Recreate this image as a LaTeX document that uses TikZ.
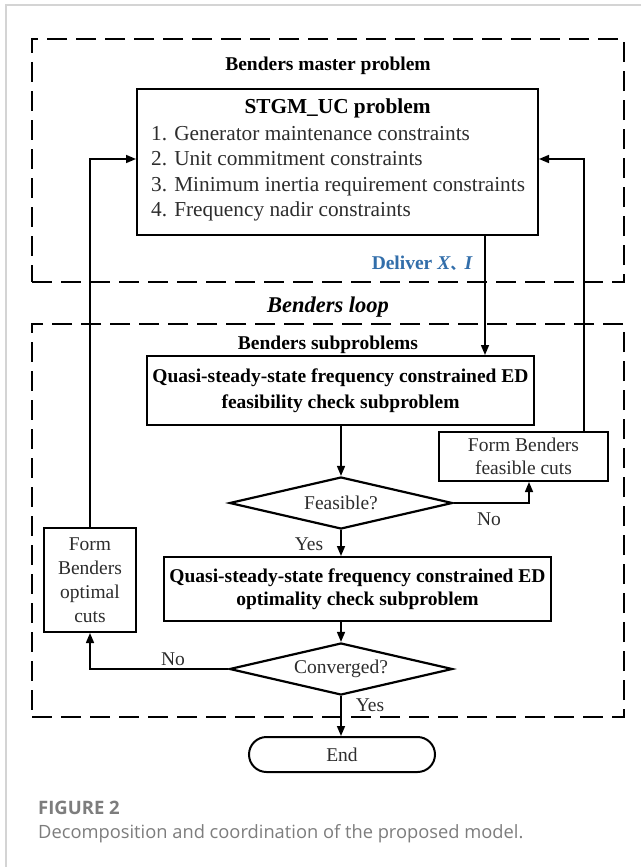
\documentclass[tikz,border=0pt]{standalone}
\usepackage{fontspec}
\setmainfont{Liberation Serif}
\newfontfamily\cjkfont{Noto Sans CJK SC}
\newfontfamily\capfont{Open Sans}
\usetikzlibrary{shapes.geometric,arrows.meta,calc}
\definecolor{deliverblue}{RGB}{50,110,170}
\definecolor{capgray}{RGB}{125,125,125}
\definecolor{framegray}{RGB}{212,212,212}
\definecolor{txtgray}{RGB}{45,45,45}
\begin{document}
\begin{tikzpicture}[x=1pt,y=-1pt,
  dashbox/.style={draw, line width=2.7pt, dash pattern=on 20pt off 9pt},
  solidbox/.style={draw, line width=2pt, rectangle, inner sep=0pt},
  decision/.style={draw, line width=2.2pt, diamond, aspect=4.3, inner sep=0pt,
    minimum width=223pt, minimum height=52pt, text=txtgray,
    font=\fontsize{19.5}{23}\selectfont},
  conn/.style={line width=1.5pt, -{Triangle[length=10pt,width=8pt]}},
  boldtxt/.style={font=\fontsize{19.5}{25.7}\selectfont\bfseries, align=center},
  normtxt/.style={font=\fontsize{19.5}{23.5}\selectfont, text=txtgray, align=center},
  lbl/.style={font=\fontsize{19.5}{23}\selectfont, text=txtgray, inner sep=0pt},
]
\useasboundingbox (0,0) rectangle (641,867);
\fill[white] (0,0) rectangle (641,867);
% page frame
\coordinate (frtr) at (641,5);
\coordinate (frtl) at (6,5);
\coordinate (frbl) at (6,867);
\draw[framegray, line width=1.5pt] (frtr) -- (frtl) -- (frbl);

% dashed groups
\node[dashbox, rectangle, minimum width=592pt, minimum height=243pt, inner sep=0pt] (master) at (328,160.5) {};
\node[dashbox, rectangle, minimum width=592pt, minimum height=393pt, inner sep=0pt] (loop) at (328,520.5) {};

% titles
\node[boldtxt, inner sep=0pt] (mastertitle) at (328,66) {Benders master problem};
\node[font=\fontsize{22.5}{26}\selectfont\bfseries\itshape, inner sep=0pt] (looptitle) at (328,307) {Benders loop};
\node[boldtxt, inner sep=0pt] (subtitle) at (328,345) {Benders subproblems};

% STGM box
\node[solidbox, minimum width=401pt, minimum height=146pt] (stgm) at (337.5,162) {};
\node[font=\fontsize{21.3}{25.5}\selectfont\bfseries, inner sep=0pt] (stgmtitle) at (337.5,108) {STGM\_UC problem};
\node[font=\fontsize{21.3}{25.5}\selectfont, text=txtgray, align=left, anchor=west, inner sep=0pt] (stgmlist) at (151,173.5)
  {1. Generator maintenance constraints\\2. Unit commitment constraints\\3. Minimum inertia requirement constraints\\4. Frequency nadir constraints};

% deliver label
\node[anchor=east, text=deliverblue, font=\fontsize{19.5}{22}\selectfont\bfseries, inner sep=0pt] (deliver) at (473,263)
  {Deliver \textit{X}{\cjkfont\fontsize{14}{14}\selectfont 、}\textit{I}};

% subproblem boxes
\node[solidbox, minimum width=387pt, minimum height=69pt, boldtxt] (q1) at (340.5,390.5)
  {Quasi-steady-state frequency constrained ED\\feasibility check subproblem};
\node[decision] (feas) at (341,503) {Feasible?};
\node[solidbox, minimum width=169pt, minimum height=49pt, normtxt, font=\fontsize{19.5}{23}\selectfont] (fcut) at (523.5,456.5)
  {Form Benders\\feasible cuts};
\node[solidbox, minimum width=387pt, minimum height=64pt, boldtxt, font=\fontsize{19.5}{23.3}\selectfont\bfseries] (q2) at (357.5,589)
  {Quasi-steady-state frequency constrained ED\\optimality check subproblem};
\node[solidbox, minimum width=92pt, minimum height=104pt, normtxt, font=\fontsize{19.5}{24}\selectfont] (opt) at (90,580)
  {Form\\Benders\\optimal\\cuts};
\node[decision] (conv) at (341,669) {Converged?};
\node[draw, line width=2pt, rectangle, rounded corners=17.5pt, minimum width=186pt, minimum height=35pt,
  inner sep=0pt, text=txtgray, font=\fontsize{19.5}{23}\selectfont] (endnode) at (342,754.5) {End};

% helper coordinates
\coordinate (xd) at (485,0);
\coordinate (xf) at (529,0);
\coordinate (xr) at (584,0);
\coordinate (yl) at (0,159);

% connectors
\draw[conn] (stgm.south -| xd) -- (q1.north -| xd);
\draw[conn] (q1.south -| feas.north) -- (feas.north);
\draw[conn] (feas.east) -| (xf |- fcut.south);
\draw[conn] (xr |- fcut.north) |- (stgm.east |- yl);
\draw[conn] (feas.south) -- (q2.north -| feas.south);
\draw[conn] (q2.south -| conv.north) -- (conv.north);
\draw[conn] (conv.west) -| (opt.south);
\draw[conn] (opt.north) |- (stgm.west |- yl);
\draw[conn] (conv.south) -- (endnode.north -| conv.south);

% branch labels
\node[lbl] (yes1) at (309,544) {Yes};
\node[lbl] (no1) at (489,519) {No};
\node[lbl] (no2) at (173,659) {No};
\node[lbl] (yes2) at (370,705) {Yes};

% caption
\node[anchor=west, inner sep=0pt, text=capgray, font=\capfont\bfseries\fontsize{18.5}{22}\selectfont] (figlabel) at (38,808) {FIGURE 2};
\node[anchor=west, inner sep=0pt, text=capgray, font=\capfont\fontsize{18.3}{22}\selectfont] (figcap) at (38,834) {Decomposition and coordination of the proposed model.};
\end{tikzpicture}
\end{document}
